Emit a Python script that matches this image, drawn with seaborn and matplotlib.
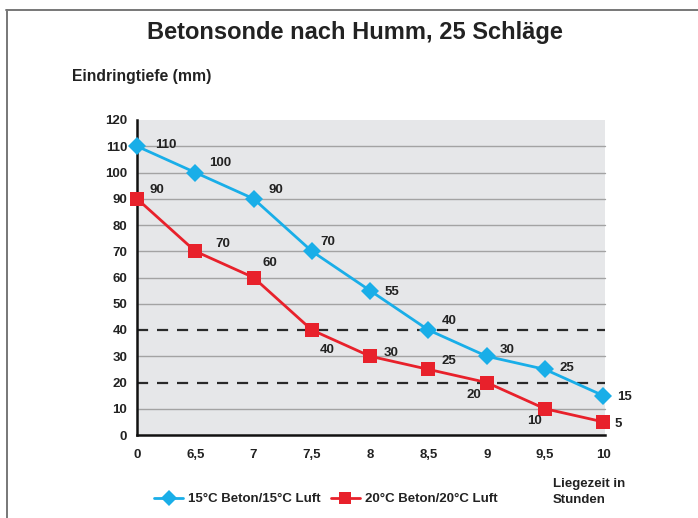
import matplotlib
matplotlib.use("Agg")
import matplotlib.pyplot as plt
import seaborn as sns
import pandas as pd
from matplotlib.lines import Line2D

categories = ["0", "6,5", "7", "7,5", "8", "8,5", "9", "9,5", "10"]
beton15 = [110, 100, 90, 70, 55, 40, 30, 25, 15]
beton20 = [90, 70, 60, 40, 30, 25, 20, 10, 5]
series_names = ["15°C Beton/15°C Luft", "20°C Beton/20°C Luft"]
y_ticks = list(range(0, 121, 10))
ref_lines = [20, 40]

# label offsets in pixels (left edge of text relative to point)
off15 = [(18, 1), (14, 10), (15, 9), (9, 9), (14, -1), (13, 9), (13, 6), (15, 1), (14, -1)]
off20 = [(13, 9), (20, 7), (9, 14), (8, -20), (14, 3), (13, 8), (-20, -12), (-18, -12), (11, -2)]

sns.set_theme(style="white")
FAM = ["Liberation Sans Narrow", "Liberation Sans", "DejaVu Sans"]
plt.rcParams["font.family"] = FAM

blue = "#19aee8"
red = "#e8212b"

df = pd.DataFrame({
    "x": categories * 2,
    "y": beton15 + beton20,
    "s": [series_names[0]] * len(categories) + [series_names[1]] * len(categories),
})

W, H = 698, 518
fig = plt.figure(figsize=(W / 100, H / 100), dpi=100)
ax = fig.add_axes([137 / W, (H - 435) / H, (605 - 137) / W, (435 - 120) / H])
ax.set_facecolor("#e6e7e9")

for v in y_ticks[1:-1]:
    if v in ref_lines:
        continue
    ax.axhline(v, color="#a3a3a3", lw=1.0, zorder=1)
for v in ref_lines:
    ax.axhline(v, color="#2a2a2a", lw=1.6, ls=(0, (5, 4)), zorder=1.5)

sns.lineplot(data=df, x="x", y="y", hue="s", style="s",
             palette=[blue, red], markers=["D", "s"], dashes=False,
             markersize=9.5, lw=2.0, markeredgewidth=0, legend=False, ax=ax,
             zorder=3, sort=False)
for ln in ax.lines:
    ln.set_clip_on(False)

for i, (v, o) in enumerate(zip(beton15, off15)):
    ax.annotate(str(v), (i, v), xytext=o, textcoords="offset pixels",
                ha="left", va="center", fontsize=9.5, fontweight="bold", color="#222222")
for i, (v, o) in enumerate(zip(beton20, off20)):
    ax.annotate(str(v), (i, v), xytext=o, textcoords="offset pixels",
                ha="left", va="center", fontsize=9.5, fontweight="bold", color="#222222")

ax.set_xlim(0, 8.03)
ax.set_ylim(0, 120)
ax.set_yticks(y_ticks)
ax.set_xticks(range(len(categories)))
ax.set_xticklabels(categories)
ax.set_xlabel("")
ax.set_ylabel("")
for s in ["top", "right"]:
    ax.spines[s].set_visible(False)
for s in ["left", "bottom"]:
    ax.spines[s].set_color("#111111")
    ax.spines[s].set_linewidth(1.8)
ax.tick_params(axis="both", direction="out", length=4, width=1.5, color="#111111",
               labelsize=9.5, labelcolor="#222222")
ax.tick_params(axis="y", pad=3)
ax.tick_params(axis="x", pad=6)
for lab in ax.get_xticklabels() + ax.get_yticklabels():
    lab.set_fontweight("bold")

fig.text(355 / W, 1 - 33 / H, "Betonsonde nach Humm, 25 Schläge", ha="center", va="center",
         fontsize=17, fontweight="bold", color="#222222")
fig.text(72 / W, 1 - 77 / H, "Eindringtiefe (mm)", ha="left", va="center",
         fontsize=11.3, fontweight="bold", color="#222222")
fig.text(553 / W, 1 - 492 / H, "Liegezeit in\nStunden", ha="left", va="center",
         fontsize=9.5, fontweight="bold", color="#222222", linespacing=1.35)

handles = [Line2D([], [], color=blue, marker="D", lw=2.0, markersize=8, markeredgewidth=0),
           Line2D([], [], color=red, marker="s", lw=2.0, markersize=9, markeredgewidth=0)]
leg = fig.legend(handles, series_names, loc="center", bbox_to_anchor=(326 / W, 19 / H),
                 ncol=2, frameon=False, handlelength=2.2, columnspacing=0.75, handletextpad=0.4,
                 prop={"family": FAM, "weight": "bold", "size": 9.5})
for t in leg.get_texts():
    t.set_color("#222222")

fig.add_artist(Line2D([6 / W, 1], [1 - 10 / H, 1 - 10 / H], color="#777777", lw=1.4,
                      transform=fig.transFigure))
fig.add_artist(Line2D([7 / W, 7 / W], [1 - 10 / H, 0], color="#777777", lw=1.4,
                      transform=fig.transFigure))

fig.savefig("out.png", dpi=100)
